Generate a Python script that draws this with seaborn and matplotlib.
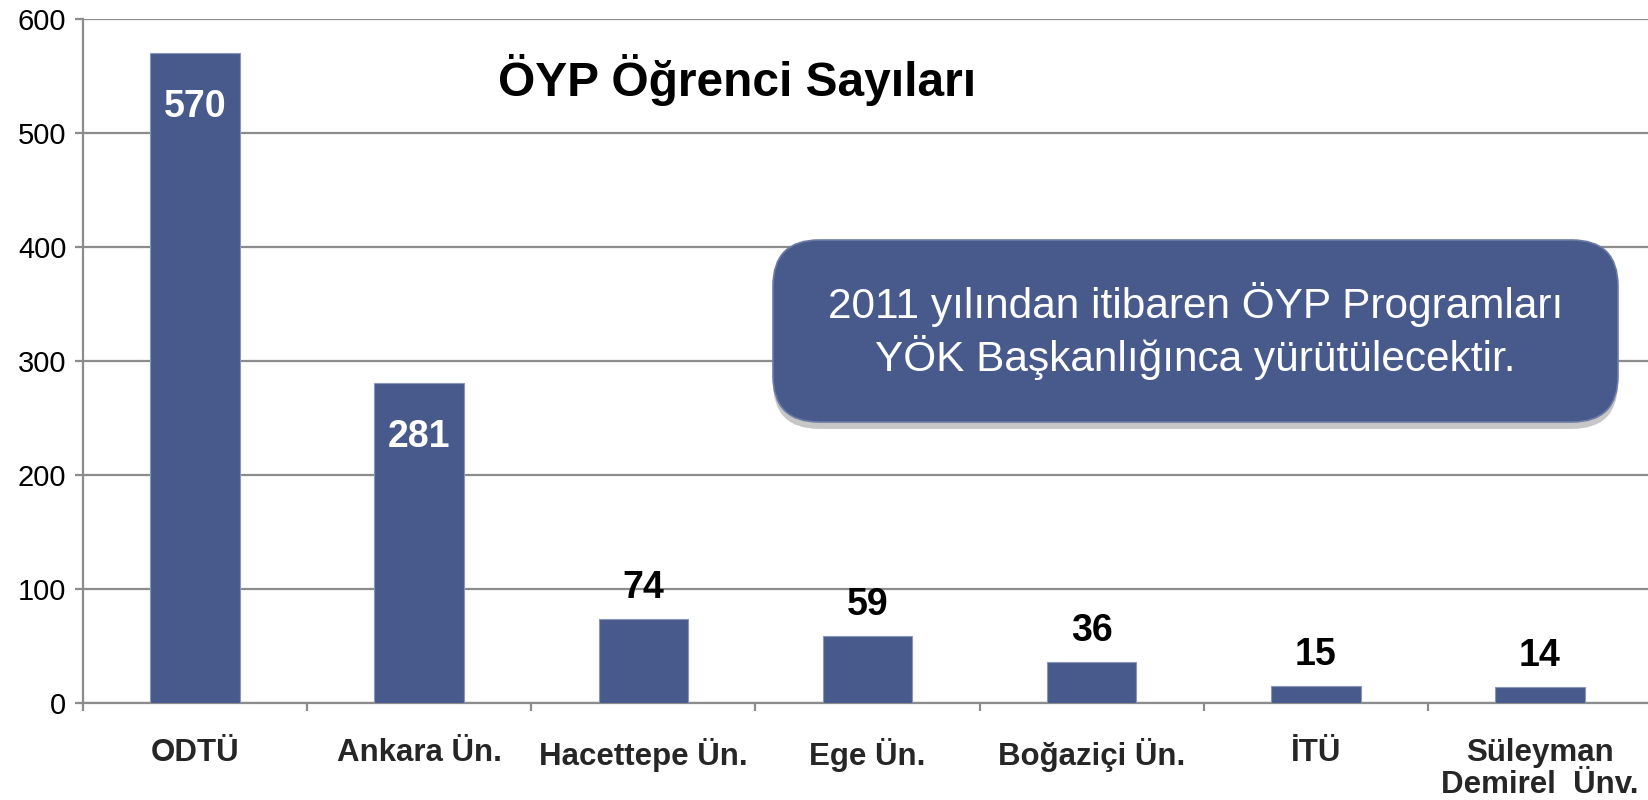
import matplotlib
matplotlib.use("Agg")
import matplotlib.pyplot as plt
import seaborn as sns
import pandas as pd
from matplotlib.patches import FancyBboxPatch
import matplotlib.patheffects as pe

universities = ["ODTÜ", "Ankara Ün.", "Hacettepe Ün.", "Ege Ün.", "Boğaziçi Ün.", "İTÜ", "Süleyman\nDemirel  Ünv."]
students = [570, 281, 74, 59, 36, 15, 14]
yticks = [0, 100, 200, 300, 400, 500, 600]
title_text = "ÖYP Öğrenci Sayıları"
note_text = "2011 yılından itibaren ÖYP Programları\nYÖK Başkanlığınca yürütülecektir."

BAR = "#475A8B"
GRID = "#8C8C8C"

sns.set_theme(style="white")
plt.rcParams['font.family'] = ['Liberation Sans', 'DejaVu Sans']

df = pd.DataFrame({"uni": universities, "n": students})

fig = plt.figure(figsize=(16.48, 8.0), dpi=100)
ax = fig.add_axes([83 / 1648, 1 - 703 / 800, (1648 - 83 + 4) / 1648, 684 / 800])

sns.barplot(data=df, x="uni", y="n", color=BAR, width=0.4, saturation=1, ax=ax, zorder=3,
            edgecolor="#8A97BC", linewidth=0.8)

ax.set_ylim(0, 600)
ax.set_xlim(-0.5, len(universities) - 0.5)
ax.set_yticks(yticks)
ax.yaxis.grid(True, color=GRID, linewidth=1.6, zorder=0)
ax.xaxis.grid(False)
ax.set_xlabel("")
ax.set_ylabel("")

for s in ["top", "right"]:
    ax.spines[s].set_visible(False)
for s in ["left", "bottom"]:
    ax.spines[s].set_color(GRID)
    ax.spines[s].set_linewidth(1.6)

ax.tick_params(axis="y", which="major", left=True, length=6, width=1.6, color=GRID,
               labelsize=21, labelcolor="black", pad=6)
ax.tick_params(axis="x", which="major", bottom=False, labelsize=22.5, pad=19)
for lbl in ax.get_xticklabels():
    lbl.set_fontweight("bold")
    lbl.set_verticalalignment("top")
    lbl.set_linespacing(1.08)

# category boundary ticks
ax.set_xticks([i - 0.5 for i in range(len(universities) + 1)], minor=True)
ax.tick_params(axis="x", which="minor", bottom=True, length=6, width=1.6, color=GRID)

for i, v in enumerate(students):
    if v > 200:
        ax.annotate(str(v), (i, v), xytext=(0, -39), textcoords="offset points",
                    ha="center", va="center", fontsize=27, fontweight="bold", color="white", zorder=5)
    else:
        ax.annotate(str(v), (i, v), xytext=(0, 22), textcoords="offset points",
                    ha="center", va="center", fontsize=27, fontweight="bold", color="black", zorder=5)

fig.text(737 / 1648, 1 - 80 / 800, title_text, ha="center", va="center",
         fontsize=34.5, fontweight="bold", color="black")

# callout box (figure coords)
bx0, by0, bx1, by1 = 773, 240, 1618, 422
box = FancyBboxPatch((bx0 / 1648, 1 - by1 / 800), (bx1 - bx0) / 1648, (by1 - by0) / 800,
                     boxstyle="round,pad=0,rounding_size=0.028", transform=fig.transFigure,
                     facecolor=BAR, edgecolor="#6B7BA6", linewidth=1.2, zorder=10,
                     path_effects=[pe.SimplePatchShadow(offset=(0, -5), shadow_rgbFace="black", alpha=0.22),
                                   pe.Normal()], mutation_aspect=1648 / 800)
fig.patches.append(box)
fig.text((bx0 + bx1) / 2 / 1648, 1 - (by0 + by1) / 2 / 800, note_text, ha="center", va="center",
         fontsize=30.5, color="white", linespacing=1.2, zorder=11)

fig.savefig("out.png", dpi=100, facecolor="white")
